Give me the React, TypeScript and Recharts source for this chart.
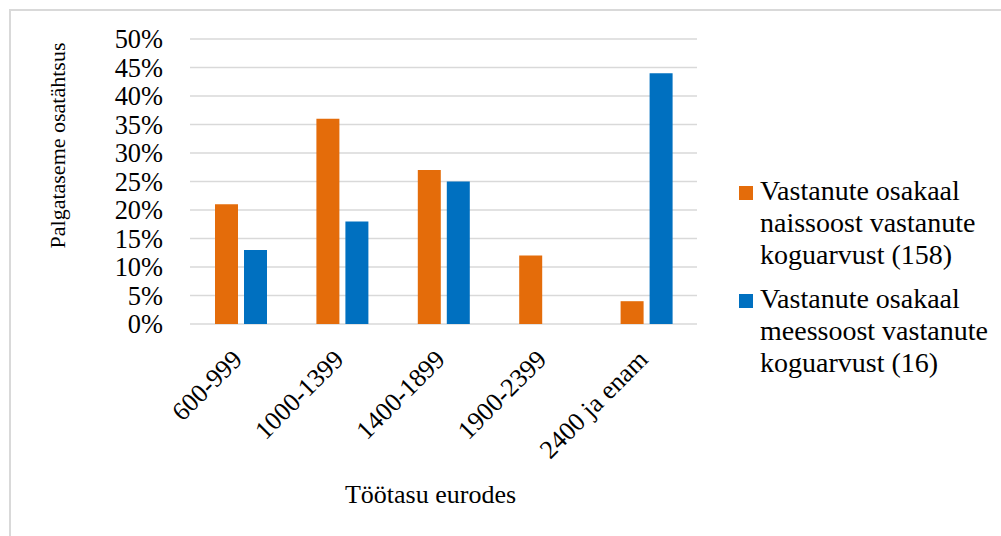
import React from 'react';
import { BarChart, Bar, XAxis, YAxis, CartesianGrid, Legend, Label } from 'recharts';

const categories = ['600-999', '1000-1399', '1400-1899', '1900-2399', '2400 ja enam'];
const womenShare = [21, 36, 27, 12, 4];
const menShare = [13, 18, 25, 0, 44];
const yTicks = [0, 5, 10, 15, 20, 25, 30, 35, 40, 45, 50];
const womenName = 'Vastanute osakaal naissoost vastanute koguarvust (158)';
const menName = 'Vastanute osakaal meessoost vastanute koguarvust (16)';
const seriesOrder = ['women', 'men'];
const xTitle = 'Töötasu eurodes';
const yTitle = 'Palgataseme osatähtsus';

const ORANGE = '#E46C0A';
const BLUE = '#0070C0';
const FONT = '"Liberation Serif", "Times New Roman", serif';

const data = categories.map((c, i) => ({ category: c, women: womenShare[i], men: menShare[i] }));

const YTick = (props: any) => {
  const { x, y, payload } = props;
  return (
    <text x={x - 27} y={y} dy="0.355em" textAnchor="end" fontFamily={FONT} fontSize={26.4} fill="#000">
      {`${payload.value}%`}
    </text>
  );
};

const XTick = (props: any) => {
  const { x, y, payload } = props;
  const tx = x + 3;
  const ty = y + 37;
  return (
    <text x={tx} y={ty} textAnchor="end" fontFamily={FONT} fontSize={26} fill="#000" transform={`rotate(-45, ${tx}, ${ty})`}>
      {payload.value}
    </text>
  );
};

const LegendContent = (props: any) => {
  const payload = [...(props.payload || [])].sort(
    (a: any, b: any) => seriesOrder.indexOf(a.dataKey) - seriesOrder.indexOf(b.dataKey)
  );
  return (
    <div style={{ fontFamily: FONT, fontSize: 28, lineHeight: '32px', color: '#000' }}>
      {payload.map((entry: any, i: number) => (
        <div key={i} style={{ display: 'flex', alignItems: 'flex-start', marginBottom: 12 }}>
          <div style={{ width: 14, height: 14, background: entry.color, marginTop: 11, marginRight: 7, flex: '0 0 auto' }} />
          <div style={{ width: 236 }}>{entry.value}</div>
        </div>
      ))}
    </div>
  );
};

export default function App() {
  return (
    <div style={{ position: 'absolute', left: 0, top: 0, width: 1001, height: 536, background: '#fff', overflow: 'hidden' }}>
      <div style={{ position: 'absolute', left: 9, top: 9, width: 1100, height: 700, borderLeft: '2px solid #d9d9d9', borderTop: '2px solid #d9d9d9' }} />
      <div style={{ position: 'absolute', left: 0, top: 0 }}>
        <BarChart
          width={1001}
          height={536}
          data={data}
          margin={{ top: 39, right: 304, bottom: 0, left: 0 }}
          barSize={23}
          barGap={6}
        >
          <CartesianGrid vertical={false} stroke="#d9d9d9" strokeWidth={1.5} />
          <XAxis
            dataKey="category"
            height={212}
            axisLine={false}
            tickLine={false}
            tickSize={0}
            tickMargin={0}
            interval={0}
            tick={<XTick />}
          >
            <Label
              content={(p: any) => {
                const vb = p.viewBox;
                return (
                  <text x={vb.x + vb.width / 2 - 13} y={503} textAnchor="middle" fontFamily={FONT} fontSize={26} fill="#000">
                    {xTitle}
                  </text>
                );
              }}
            />
          </XAxis>
          <YAxis
            width={190}
            domain={[0, 50]}
            ticks={yTicks}
            interval={0}
            axisLine={false}
            tickLine={false}
            tickSize={0}
            tickMargin={0}
            tick={<YTick />}
          >
            <Label
              content={(p: any) => {
                const vb = p.viewBox;
                const cy = vb.y + vb.height / 2 - 36;
                return (
                  <text x={64.5} y={cy} textAnchor="middle" fontFamily={FONT} fontSize={22} fill="#000" transform={`rotate(-90, 64.5, ${cy})`}>
                    {yTitle}
                  </text>
                );
              }}
            />
          </YAxis>
          <Legend
            layout="vertical"
            align="center"
            verticalAlign="middle"
            content={<LegendContent />}
            wrapperStyle={{ left: 739, top: 175, width: 262 }}
          />
          <Bar dataKey="women" name={womenName} fill={ORANGE} isAnimationActive={false} />
          <Bar dataKey="men" name={menName} fill={BLUE} isAnimationActive={false} />
        </BarChart>
      </div>
    </div>
  );
}
